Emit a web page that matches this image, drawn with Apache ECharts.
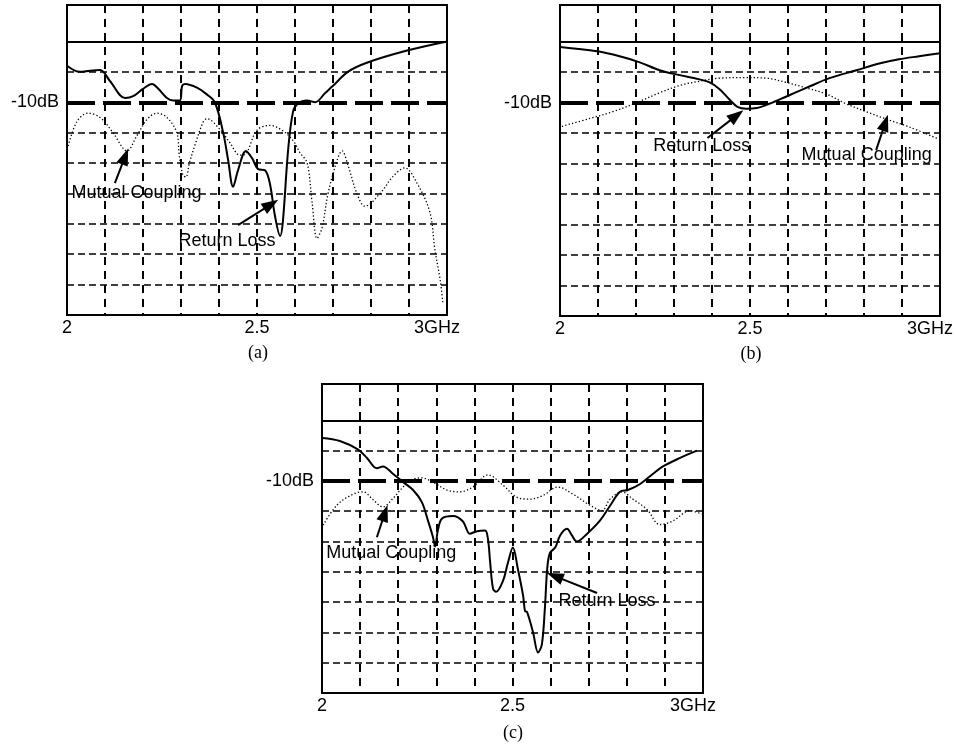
<!DOCTYPE html>
<html>
<head>
<meta charset="utf-8">
<script src="https://cdn.jsdelivr.net/npm/echarts@6/dist/echarts.min.js"></script>
<style>
html,body{margin:0;padding:0;background:#fff;}
#chart{width:956px;height:744px;}
</style>
</head>
<body>
<div id="chart"></div>
<script>
// ---------- data (frequency in GHz, level in dB) ----------
const rlA_f = [2.000,2.034,2.061,2.087,2.113,2.153,2.174,2.200,2.224,2.239,2.263,2.279,2.297,2.303,2.311,2.342,2.368,2.389,2.411,2.424,2.437,2.450,2.471,2.487,2.503,2.521,2.534,2.547,2.561,2.568,2.582,2.595,2.608,2.632,2.653,2.679,2.700,2.739,2.789,2.895,3.000];
const rlA_db = [-4.0,-5.0,-4.8,-4.7,-6.5,-9.3,-9.0,-7.8,-7.0,-7.7,-9.3,-9.7,-9.7,-7.3,-7.0,-7.6,-8.7,-10,-15,-19.5,-23.9,-21.2,-18,-19.2,-21,-21.2,-23.4,-28.6,-32,-29.7,-17.8,-11.5,-10.2,-9.7,-10.0,-8.5,-7.3,-5,-3.5,-1.5,0];
const mcA_f = [2.003,2.026,2.055,2.087,2.121,2.158,2.184,2.211,2.237,2.263,2.289,2.295,2.305,2.313,2.322,2.337,2.358,2.368,2.403,2.429,2.455,2.468,2.500,2.534,2.568,2.595,2.613,2.632,2.645,2.658,2.671,2.687,2.711,2.724,2.739,2.763,2.784,2.824,2.858,2.889,2.921,2.955,2.968,2.982,2.989];
const mcA_db = [-17.2,-13.2,-11.8,-12.5,-15,-18,-15.5,-12.8,-11.8,-12.5,-15,-18.5,-22,-22.3,-20,-17,-13.3,-12.7,-14.5,-16.7,-18.7,-18.6,-14.6,-13.8,-14.7,-16.3,-18.3,-20,-26.5,-32.4,-30.7,-25,-19.5,-18,-20.3,-25,-27.1,-25,-22.2,-20.8,-23.3,-28.1,-34.2,-39.2,-43];

const rlB_f = [2.000,2.097,2.157,2.210,2.262,2.315,2.367,2.394,2.420,2.446,2.467,2.491,2.517,2.551,2.596,2.648,2.709,2.780,2.840,2.892,2.945,3.000];
const rlB_db = [-0.9,-1.6,-2.4,-3.4,-4.7,-5.5,-6.2,-6.7,-7.8,-9.5,-10.7,-11.0,-10.9,-10.2,-9.0,-7.6,-6.0,-4.7,-3.6,-2.9,-2.4,-1.9];
const mcB_f = [2.005,2.079,2.139,2.202,2.262,2.315,2.367,2.420,2.491,2.543,2.596,2.648,2.701,2.753,2.806,2.858,2.919,2.997];
const mcB_db = [-13.9,-12.6,-11.5,-10,-8.4,-7.2,-6.5,-6.0,-5.9,-6.0,-6.7,-7.6,-8.6,-10.2,-11.5,-12.7,-14.0,-16.0];

const rlC_f = [2.000,2.047,2.094,2.118,2.144,2.160,2.186,2.213,2.239,2.262,2.278,2.291,2.297,2.304,2.315,2.344,2.370,2.388,2.407,2.428,2.436,2.441,2.449,2.457,2.475,2.488,2.501,2.514,2.528,2.533,2.538,2.554,2.567,2.577,2.585,2.591,2.598,2.612,2.625,2.643,2.656,2.669,2.696,2.730,2.756,2.782,2.803,2.835,2.869,2.895,2.940,2.984];
const rlC_db = [-2.9,-3.4,-4.8,-6.2,-7.9,-7.6,-8.8,-10.2,-11.5,-13.5,-16.5,-19.2,-20.8,-18.2,-16.2,-15.8,-16.7,-18.7,-18.3,-18.2,-19.8,-23.2,-27.8,-28.3,-26.5,-23.5,-21,-24.5,-29,-31.5,-31.6,-35,-38.3,-37,-31,-24.6,-21.9,-21,-19,-17.9,-19,-20,-18.7,-16.5,-14.1,-11.8,-11.5,-10.5,-8.8,-7.6,-6.2,-5];
const mcC_f = [2.003,2.039,2.081,2.108,2.134,2.160,2.186,2.213,2.239,2.262,2.291,2.328,2.362,2.396,2.436,2.475,2.512,2.546,2.580,2.619,2.659,2.703,2.735,2.756,2.787,2.816,2.853,2.887,2.921,2.966,2.997];
const mcC_db = [-17.3,-14.0,-12.2,-11.8,-13.1,-14.3,-12.9,-11.0,-9.7,-9.5,-10.2,-11.5,-11.8,-11.0,-9.0,-10.7,-12.7,-13.0,-12.4,-11.0,-12.2,-14.0,-14.9,-13.0,-11.8,-13.0,-14.7,-17.2,-16.6,-14.9,-15.5];

// tick labels
const xTickLabels = { '2': '2', '2.5': '2.5', '3': '3GHz' };
const yTickLabel = { value: -10, text: '-10dB' };
const dashedGrid = [-5, -15, -20, -25, -30, -35, -40];
const solidRef = 0;
const boldRef = -10;
const captions = ['(a)', '(b)', '(c)'];

// annotations: [label, text centre, arrow tail, arrow head centre] in (GHz, dB)
const annA = {
  mc: ['Mutual Coupling', [2.183, -24.9], [2.126, -23.3], [2.153, -18.9]],
  rl: ['Return Loss', [2.421, -32.8], [2.450, -30.2], [2.537, -26.8]]
};
const annB = {
  rl: ['Return Loss', [2.373, -17.1], [2.388, -15.8], [2.465, -12.1]],
  mc: ['Mutual Coupling', [2.807, -18.6], [2.832, -17.8], [2.856, -13.3]]
};
const annC = {
  mc: ['Mutual Coupling', [2.182, -21.9], [2.144, -19.3], [2.165, -15.3]],
  rl: ['Return Loss', [2.748, -29.8], [2.722, -28.5], [2.611, -25.7]]
};

// ---------- layout ----------
const SANS = '"Liberation Sans", Arial, sans-serif';
const SERIF = '"Liberation Serif", "Times New Roman", serif';
const grids = [
  { left: 67, top: 5, width: 380, height: 310 },
  { left: 560, top: 5, width: 381, height: 311 },
  { left: 322, top: 384, width: 381, height: 309 }
];
const captionPos = [[258, 353], [751, 354], [513, 733]];

function zip(f, d) { return f.map((v, i) => [v, d[i]]); }

function xAxisFor(i) {
  return {
    type: 'value', gridIndex: i, min: 2, max: 3, interval: 0.1,
    axisLine: { show: true, lineStyle: { color: '#000', width: 2 } },
    axisTick: { show: false },
    splitLine: { show: true, lineStyle: { color: '#000', width: 2, type: [8, 6] } },
    axisLabel: {
      show: true, margin: 4, color: '#000', fontSize: 18, fontFamily: SANS,
      showMinLabel: true, showMaxLabel: true,
      formatter: function (v) {
        const key = String(Math.round(v * 10) / 10);
        if (key === '3') return '{g|' + xTickLabels[key] + '}';
        return xTickLabels[key] || '';
      },
      rich: { g: { padding: [0, 20, 0, 0], fontSize: 18, fontFamily: SANS, color: '#000' } }
    }
  };
}
function yAxisFor(i) {
  return {
    type: 'value', gridIndex: i, min: -45, max: 6, interval: 5,
    axisLine: { show: true, lineStyle: { color: '#000', width: 2 } },
    axisTick: { show: false },
    splitLine: { show: false },
    axisLabel: {
      show: true, margin: 8, color: '#000', fontSize: 18, fontFamily: SANS,
      formatter: function (v) { return Math.abs(v - yTickLabel.value) < 1e-6 ? yTickLabel.text : ''; }
    }
  };
}

function gridMarkLines() {
  const items = dashedGrid.map(v => ({ yAxis: v, lineStyle: { color: '#000', width: 1.5, type: [7, 4] } }));
  items.push({ yAxis: solidRef, lineStyle: { color: '#000', width: 1.2, type: 'solid' } });
  items.push({ yAxis: boldRef, lineStyle: { color: '#000', width: 4, type: [28, 8] } });
  return items;
}
function arrowItem(a) {
  return [
    { coord: a[2], symbol: 'none' },
    { coord: a[3], symbol: 'triangle', symbolSize: [12, 17] }
  ];
}
function textPoint(a) {
  return {
    coord: a[1], name: a[0], symbol: 'circle', symbolSize: 1,
    itemStyle: { color: 'rgba(0,0,0,0)' },
    label: { show: true, position: 'inside', formatter: '{b}', color: '#000', fontSize: 18, fontFamily: SANS }
  };
}

function seriesFor(i, rlF, rlD, mcF, mcD, ann) {
  return [
    {
      type: 'line', xAxisIndex: i, yAxisIndex: i, data: zip(rlF, rlD),
      smooth: 0.35, showSymbol: false, silent: true, z: 5,
      lineStyle: { color: '#000', width: 2 },
      markLine: {
        silent: true, symbol: 'none', animation: false,
        label: { show: false },
        lineStyle: { color: '#000', width: 2, type: 'solid' },
        data: gridMarkLines().concat([arrowItem(ann.rl)])
      },
      markPoint: { silent: true, animation: false, data: [textPoint(ann.rl)] }
    },
    {
      type: 'line', xAxisIndex: i, yAxisIndex: i, data: zip(mcF, mcD),
      smooth: 0.35, showSymbol: false, silent: true, z: 4,
      lineStyle: { color: '#000', width: 1.3, type: [1.3, 2.2] },
      markLine: {
        silent: true, symbol: 'none', animation: false,
        label: { show: false },
        lineStyle: { color: '#000', width: 2, type: 'solid' },
        data: [arrowItem(ann.mc)]
      },
      markPoint: { silent: true, animation: false, data: [textPoint(ann.mc)] }
    }
  ];
}

const chart = echarts.init(document.getElementById('chart'), null, { renderer: 'canvas' });
chart.setOption({
  animation: false,
  backgroundColor: '#fff',
  grid: grids.map(g => Object.assign({ show: true, borderColor: '#000', borderWidth: 2, backgroundColor: 'transparent', containLabel: false }, g)),
  xAxis: [0, 1, 2].map(xAxisFor),
  yAxis: [0, 1, 2].map(yAxisFor),
  series: []
    .concat(seriesFor(0, rlA_f, rlA_db, mcA_f, mcA_db, annA))
    .concat(seriesFor(1, rlB_f, rlB_db, mcB_f, mcB_db, annB))
    .concat(seriesFor(2, rlC_f, rlC_db, mcC_f, mcC_db, annC)),
  graphic: captions.map((c, i) => ({
    type: 'text', x: captionPos[i][0], y: captionPos[i][1], silent: true,
    style: { text: c, fill: '#000', font: '18px ' + SERIF, align: 'center', verticalAlign: 'middle' }
  }))
});
</script>
</body>
</html>
